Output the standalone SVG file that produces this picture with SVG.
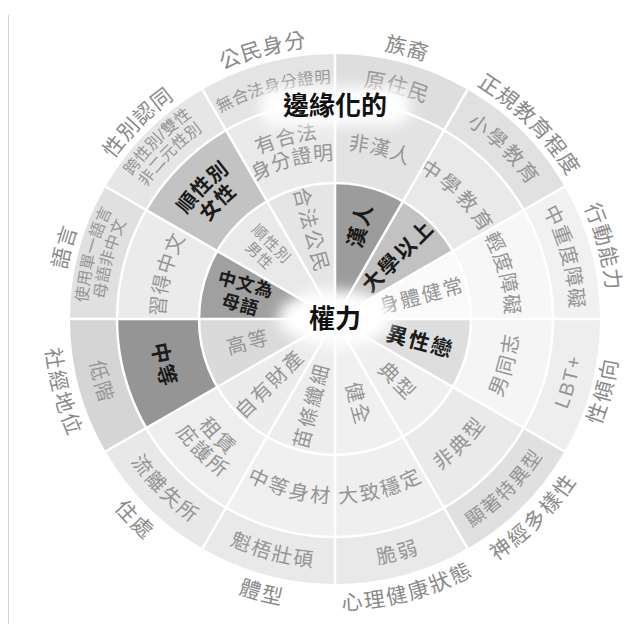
<svg xmlns="http://www.w3.org/2000/svg" xmlns:xlink="http://www.w3.org/1999/xlink" width="625" height="624" viewBox="0 0 625 624">
<defs>
<style>
.f{font-family:"Liberation Sans","Noto Sans CJK TC","Noto Sans CJK SC",sans-serif}
.lbl{font-size:21px;fill:#8a8a8a;letter-spacing:1.5px}
.o{font-size:20px;fill:#959595;letter-spacing:1.5px}
.o2{font-size:16px;fill:#959595;letter-spacing:0.5px}
.m{font-size:20px;fill:#959595;letter-spacing:1.5px}
.i{font-size:20px;fill:#959595;letter-spacing:2px}
.b{fill:#1a1a1a;font-weight:700}
.sep{stroke:#fff;stroke-width:2.5;fill:none}
</style>
<filter id="blur" x="-50%" y="-80%" width="200%" height="260%"><feGaussianBlur stdDeviation="7"/></filter>
<path id="cw281" d="M335,600 A281,281 0 1 1 335,38 A281,281 0 1 1 335,600"/>
<path id="ccw283" d="M335,36 A283,283 0 1 0 335,602 A283,283 0 1 0 335,36"/>
<path id="ccw278" d="M335,41 A278,278 0 1 0 335,597 A278,278 0 1 0 335,41"/>
<path id="cw242" d="M335,561 A242,242 0 1 1 335,77 A242,242 0 1 1 335,561"/>
<path id="ccw242" d="M335,77 A242,242 0 1 0 335,561 A242,242 0 1 0 335,77"/>
<path id="cw254" d="M335,573 A254,254 0 1 1 335,65 A254,254 0 1 1 335,573"/>
<path id="cw236" d="M335,555 A236,236 0 1 1 335,83 A236,236 0 1 1 335,555"/>
<path id="cw177" d="M335,496 A177,177 0 1 1 335,142 A177,177 0 1 1 335,496"/>
<path id="ccw177" d="M335,142 A177,177 0 1 0 335,496 A177,177 0 1 0 335,142"/>
<path id="cw188" d="M335,507 A188,188 0 1 1 335,131 A188,188 0 1 1 335,507"/>
<path id="cw166" d="M335,485 A166,166 0 1 1 335,153 A166,166 0 1 1 335,485"/>
<path id="ccw188" d="M335,131 A188,188 0 1 0 335,507 A188,188 0 1 0 335,131"/>
<path id="ccw166" d="M335,153 A166,166 0 1 0 335,485 A166,166 0 1 0 335,153"/>
</defs>
<rect width="625" height="624" fill="#fff"/>
<line x1="8.5" y1="15" x2="8.5" y2="624" stroke="#d4d4d4" stroke-width="1"/>

<g id="ethnicity">
<path d="M335,319 L335,183 A136,136 0 0 1 403,201.22 Z" fill="#9c9c9c"/>
<path d="M335,183 L335,101 A218,218 0 0 1 444,130.21 L403,201.22 A136,136 0 0 0 335,183 Z" fill="#e3e3e3"/>
<path d="M335,101 L335,54 A265,265 0 0 1 467.5,89.51 L444,130.21 A218,218 0 0 0 335,101 Z" fill="#dedede"/>
<text class="f lbl" dominant-baseline="central" text-anchor="middle"><textPath href="#cw281" startOffset="54.1667%">族裔</textPath></text>
<text class="f o" dominant-baseline="central" text-anchor="middle" style="font-size:21px"><textPath href="#cw242" startOffset="54.1667%">原住民</textPath></text>
<text class="f m" dominant-baseline="central" text-anchor="middle"><textPath href="#cw177" startOffset="54.1667%">非漢人</textPath></text>
<text class="f i b" dominant-baseline="central" text-anchor="middle" transform="translate(360.1,225.3) rotate(-75)" style="font-size:21px">漢人</text>
</g>

<g id="education">
<path d="M335,319 L403,201.22 A136,136 0 0 1 452.78,251 Z" fill="#c2c2c2"/>
<path d="M403,201.22 L444,130.21 A218,218 0 0 1 523.79,210 L452.78,251 A136,136 0 0 0 403,201.22 Z" fill="#e9e9e9"/>
<path d="M444,130.21 L467.5,89.51 A265,265 0 0 1 564.49,186.5 L523.79,210 A218,218 0 0 0 444,130.21 Z" fill="#e1e1e1"/>
<text class="f lbl" dominant-baseline="central" text-anchor="middle"><textPath href="#cw281" startOffset="62.5%">正規教育程度</textPath></text>
<text class="f o" dominant-baseline="central" text-anchor="middle" style="letter-spacing:3px"><textPath href="#cw242" startOffset="62.5%">小學教育</textPath></text>
<text class="f m" dominant-baseline="central" text-anchor="middle" style="letter-spacing:4px"><textPath href="#cw177" startOffset="62.5%">中學教育</textPath></text>
<text class="f i b" dominant-baseline="central" text-anchor="middle" transform="translate(398,256) rotate(-45)" style="font-size:21px">大學以上</text>
</g>

<g id="mobility">
<path d="M335,319 L452.78,251 A136,136 0 0 1 471,319 Z" fill="#fafafa"/>
<path d="M452.78,251 L523.79,210 A218,218 0 0 1 553,319 L471,319 A136,136 0 0 0 452.78,251 Z" fill="#f7f7f7"/>
<path d="M523.79,210 L564.49,186.5 A265,265 0 0 1 600,319 L553,319 A218,218 0 0 0 523.79,210 Z" fill="#f1f1f1"/>
<text class="f lbl" dominant-baseline="central" text-anchor="middle"><textPath href="#cw281" startOffset="70.8333%">行動能力</textPath></text>
<text class="f o" dominant-baseline="central" text-anchor="middle"><textPath href="#cw242" startOffset="70.8333%">中重度障礙</textPath></text>
<text class="f m" dominant-baseline="central" text-anchor="middle"><textPath href="#cw177" startOffset="70.8333%">輕度障礙</textPath></text>
<text class="f i" dominant-baseline="central" text-anchor="middle" transform="translate(421.9,295.7) rotate(-15)">身體健常</text>
</g>

<g id="orientation">
<path d="M335,319 L471,319 A136,136 0 0 1 452.78,387 Z" fill="#dedede"/>
<path d="M471,319 L553,319 A218,218 0 0 1 523.79,428 L452.78,387 A136,136 0 0 0 471,319 Z" fill="#f5f5f5"/>
<path d="M553,319 L600,319 A265,265 0 0 1 564.49,451.5 L523.79,428 A218,218 0 0 0 553,319 Z" fill="#eeeeee"/>
<text class="f lbl" dominant-baseline="central" text-anchor="middle"><textPath href="#ccw278" startOffset="70.8333%">性傾向</textPath></text>
<text class="f o" dominant-baseline="central" text-anchor="middle"><textPath href="#ccw242" startOffset="70.8333%">LBT+</textPath></text>
<text class="f m" dominant-baseline="central" text-anchor="middle"><textPath href="#ccw177" startOffset="70.8333%">男同志</textPath></text>
<text class="f i b" dominant-baseline="central" text-anchor="middle" transform="translate(420,341.8) rotate(15)" style="font-size:21px">異性戀</text>
</g>

<g id="neurodiversity">
<path d="M335,319 L452.78,387 A136,136 0 0 1 403,436.78 Z" fill="#efefef"/>
<path d="M452.78,387 L523.79,428 A218,218 0 0 1 444,507.79 L403,436.78 A136,136 0 0 0 452.78,387 Z" fill="#eaeaea"/>
<path d="M523.79,428 L564.49,451.5 A265,265 0 0 1 467.5,548.49 L444,507.79 A218,218 0 0 0 523.79,428 Z" fill="#e0e0e0"/>
<text class="f lbl" dominant-baseline="central" text-anchor="middle"><textPath href="#ccw283" startOffset="62.5%">神經多樣性</textPath></text>
<text class="f o" dominant-baseline="central" text-anchor="middle" style="font-size:19px;letter-spacing:1px"><textPath href="#ccw242" startOffset="62.5%">顯著特異型</textPath></text>
<text class="f m" dominant-baseline="central" text-anchor="middle"><textPath href="#ccw177" startOffset="62.5%">非典型</textPath></text>
<text class="f i" dominant-baseline="central" text-anchor="middle" transform="translate(397.2,381.2) rotate(45)">典型</text>
</g>

<g id="mental-health">
<path d="M335,319 L403,436.78 A136,136 0 0 1 335,455 Z" fill="#f0f0f0"/>
<path d="M403,436.78 L444,507.79 A218,218 0 0 1 335,537 L335,455 A136,136 0 0 0 403,436.78 Z" fill="#efefef"/>
<path d="M444,507.79 L467.5,548.49 A265,265 0 0 1 335,584 L335,537 A218,218 0 0 0 444,507.79 Z" fill="#e9e9e9"/>
<text class="f lbl" dominant-baseline="central" text-anchor="middle"><textPath href="#ccw283" startOffset="54.1667%">心理健康狀態</textPath></text>
<text class="f o" dominant-baseline="central" text-anchor="middle"><textPath href="#ccw242" startOffset="54.1667%">脆弱</textPath></text>
<text class="f m" dominant-baseline="central" text-anchor="middle"><textPath href="#ccw177" startOffset="54.1667%">大致穩定</textPath></text>
<text class="f i" dominant-baseline="central" text-anchor="middle" transform="translate(357.8,404) rotate(75)">健全</text>
</g>

<g id="body-type">
<path d="M335,319 L335,455 A136,136 0 0 1 267,436.78 Z" fill="#ededed"/>
<path d="M335,455 L335,537 A218,218 0 0 1 226,507.79 L267,436.78 A136,136 0 0 0 335,455 Z" fill="#f0f0f0"/>
<path d="M335,537 L335,584 A265,265 0 0 1 202.5,548.49 L226,507.79 A218,218 0 0 0 335,537 Z" fill="#e9e9e9"/>
<text class="f lbl" dominant-baseline="central" text-anchor="middle"><textPath href="#ccw283" startOffset="45.8333%">體型</textPath></text>
<text class="f o" dominant-baseline="central" text-anchor="middle"><textPath href="#ccw242" startOffset="45.8333%">魁梧壯碩</textPath></text>
<text class="f m" dominant-baseline="central" text-anchor="middle"><textPath href="#ccw177" startOffset="45.8333%">中等身材</textPath></text>
<text class="f i" dominant-baseline="central" text-anchor="middle" transform="translate(311.7,405.9) rotate(-75)">苗條纖細</text>
</g>

<g id="housing">
<path d="M335,319 L267,436.78 A136,136 0 0 1 217.22,387 Z" fill="#ececec"/>
<path d="M267,436.78 L226,507.79 A218,218 0 0 1 146.21,428 L217.22,387 A136,136 0 0 0 267,436.78 Z" fill="#eeeeee"/>
<path d="M226,507.79 L202.5,548.49 A265,265 0 0 1 105.51,451.5 L146.21,428 A218,218 0 0 0 226,507.79 Z" fill="#e8e8e8"/>
<text class="f lbl" dominant-baseline="central" text-anchor="middle"><textPath href="#ccw283" startOffset="37.5%">住處</textPath></text>
<text class="f o" dominant-baseline="central" text-anchor="middle"><textPath href="#ccw242" startOffset="37.5%">流離失所</textPath></text>
<text class="f m" dominant-baseline="central" text-anchor="middle"><textPath href="#ccw166" startOffset="37.5%">租賃</textPath></text>
<text class="f m" dominant-baseline="central" text-anchor="middle"><textPath href="#ccw188" startOffset="37.5%">庇護所</textPath></text>
<text class="f i" dominant-baseline="central" text-anchor="middle" transform="translate(270,384) rotate(-45)">自有財產</text>
</g>

<g id="socioeconomic">
<path d="M335,319 L217.22,387 A136,136 0 0 1 199,319 Z" fill="#dadada"/>
<path d="M217.22,387 L146.21,428 A218,218 0 0 1 117,319 L199,319 A136,136 0 0 0 217.22,387 Z" fill="#959595"/>
<path d="M146.21,428 L105.51,451.5 A265,265 0 0 1 70,319 L117,319 A218,218 0 0 0 146.21,428 Z" fill="#d5d5d5"/>
<text class="f lbl" dominant-baseline="central" text-anchor="middle"><textPath href="#ccw283" startOffset="29.1667%">社經地位</textPath></text>
<text class="f o" dominant-baseline="central" text-anchor="middle"><textPath href="#ccw242" startOffset="29.1667%">低階</textPath></text>
<text class="f m b" dominant-baseline="central" text-anchor="middle" style="font-size:21px"><textPath href="#ccw177" startOffset="29.1667%">中等</textPath></text>
<text class="f i" dominant-baseline="central" text-anchor="middle" transform="translate(248.1,342.3) rotate(-15)">高等</text>
</g>

<g id="language">
<path d="M335,319 L199,319 A136,136 0 0 1 217.22,251 Z" fill="#a0a0a0"/>
<path d="M199,319 L117,319 A218,218 0 0 1 146.21,210 L217.22,251 A136,136 0 0 0 199,319 Z" fill="#ebebeb"/>
<path d="M117,319 L70,319 A265,265 0 0 1 105.51,186.5 L146.21,210 A218,218 0 0 0 117,319 Z" fill="#e0e0e0"/>
<text class="f lbl" dominant-baseline="central" text-anchor="middle"><textPath href="#cw281" startOffset="29.1667%">語言</textPath></text>
<text class="f o2" dominant-baseline="central" text-anchor="middle"><textPath href="#cw254" startOffset="29.1667%">使用單一語言</textPath></text>
<text class="f o2" dominant-baseline="central" text-anchor="middle"><textPath href="#cw236" startOffset="29.1667%">母語非中文</textPath></text>
<text class="f m" dominant-baseline="central" text-anchor="middle"><textPath href="#cw177" startOffset="29.1667%">習得中文</textPath></text>
<text class="f i b" text-anchor="middle" transform="translate(243.2,294.4) rotate(15)" style="font-size:18px;letter-spacing:1px"><tspan x="0" y="-4">中文為</tspan><tspan x="0" y="17">母語</tspan></text>
</g>

<g id="gender-identity">
<path d="M335,319 L217.22,251 A136,136 0 0 1 267,201.22 Z" fill="#e9e9e9"/>
<path d="M217.22,251 L146.21,210 A218,218 0 0 1 226,130.21 L267,201.22 A136,136 0 0 0 217.22,251 Z" fill="#c3c3c3"/>
<path d="M146.21,210 L105.51,186.5 A265,265 0 0 1 202.5,89.51 L226,130.21 A218,218 0 0 0 146.21,210 Z" fill="#e6e6e6"/>
<text class="f lbl" dominant-baseline="central" text-anchor="middle"><textPath href="#cw281" startOffset="37.5%">性別認同</textPath></text>
<text class="f o2" dominant-baseline="central" text-anchor="middle"><textPath href="#cw254" startOffset="37.5%">跨性別/雙性</textPath></text>
<text class="f o2" dominant-baseline="central" text-anchor="middle"><textPath href="#cw236" startOffset="37.5%">非二元性別</textPath></text>
<text class="f m b" dominant-baseline="central" text-anchor="middle"><textPath href="#cw188" startOffset="37.5%">順性別</textPath></text>
<text class="f m b" dominant-baseline="central" text-anchor="middle"><textPath href="#cw166" startOffset="37.5%">女性</textPath></text>
<text class="f i" text-anchor="middle" transform="translate(265.7,249.7) rotate(45)" style="font-size:15px;letter-spacing:1px"><tspan x="0" y="-3">順性別</tspan><tspan x="0" y="14">男性</tspan></text>
</g>

<g id="citizenship">
<path d="M335,319 L267,201.22 A136,136 0 0 1 335,183 Z" fill="#e5e5e5"/>
<path d="M267,201.22 L226,130.21 A218,218 0 0 1 335,101 L335,183 A136,136 0 0 0 267,201.22 Z" fill="#eaeaea"/>
<path d="M226,130.21 L202.5,89.51 A265,265 0 0 1 335,54 L335,101 A218,218 0 0 0 226,130.21 Z" fill="#e4e4e4"/>
<text class="f lbl" dominant-baseline="central" text-anchor="middle"><textPath href="#cw281" startOffset="45.8333%">公民身分</textPath></text>
<text class="f o" dominant-baseline="central" text-anchor="middle" style="font-size:16.5px;letter-spacing:0.5px"><textPath href="#cw242" startOffset="45.8333%">無合法身分證明</textPath></text>
<text class="f m" dominant-baseline="central" text-anchor="middle"><textPath href="#cw188" startOffset="45.8333%">有合法</textPath></text>
<text class="f m" dominant-baseline="central" text-anchor="middle"><textPath href="#cw166" startOffset="45.8333%">身分證明</textPath></text>
<text class="f i" dominant-baseline="central" text-anchor="middle" transform="translate(311.2,230.1) rotate(75)">合法公民</text>
</g>

<g id="connectors">
<circle class="sep" cx="335" cy="319" r="136"/>
<circle class="sep" cx="335" cy="319" r="218"/>
<path class="sep" d="M335,319 L335,54 M335,319 L467.5,89.51 M335,319 L564.49,186.5 M335,319 L600,319 M335,319 L564.49,451.5 M335,319 L467.5,548.49 M335,319 L335,584 M335,319 L202.5,548.49 M335,319 L105.51,451.5 M335,319 L70,319 M335,319 L105.51,186.5 M335,319 L202.5,89.51"/>
</g>

<g id="marginalized">
<rect x="260" y="87" width="150" height="38" rx="15" fill="#fff" filter="url(#blur)"/>
<text class="f" x="335" y="106" dominant-baseline="central" text-anchor="middle" style="font-size:26px;font-weight:700;fill:#111">邊緣化的</text>
</g>

<g id="power">
<ellipse cx="336" cy="318" rx="58" ry="28" fill="#fff" filter="url(#blur)"/>
<text class="f" x="335" y="319" dominant-baseline="central" text-anchor="middle" style="font-size:26px;font-weight:700;fill:#111">權力</text>
</g>
</svg>
